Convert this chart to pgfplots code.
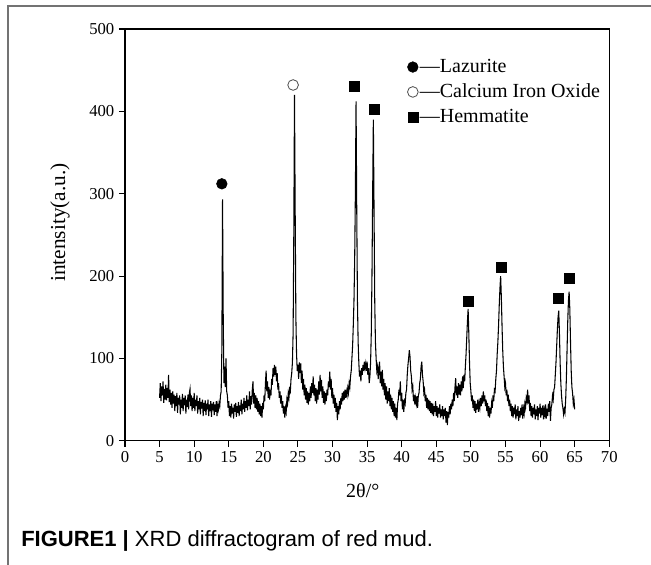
\documentclass[border=0pt]{standalone}
\usepackage{fontspec}
\setmainfont{Liberation Serif}
\newfontfamily\capfont{Liberation Sans}
\usepackage{pgfplots}
\pgfplotsset{compat=1.18}
\begin{document}
\begin{tikzpicture}
\useasboundingbox (0,0) rectangle (488.25pt,423.75pt);
\draw[black!55, line width=1pt] (6pt,0pt) -- (6pt,419.25pt) -- (488.25pt,419.25pt);
\begin{axis}[
 at={(93.75pt,93.2pt)}, anchor=south west,
 scale only axis, width=363.2pt, height=308.8pt,
 xmin=0, xmax=70, ymin=0, ymax=500,
 xtick={0,5,...,70}, ytick={0,100,...,500},
 tick align=outside, xtick pos=bottom, ytick pos=left,
 major tick length=4.5pt,
 every tick/.style={black, line width=0.8pt},
 axis line style={line width=0.8pt},
 tick label style={font=\fontsize{12.5}{15}\selectfont},
 /pgf/number format/assume math mode=true,
 xlabel={2θ/°}, ylabel={intensity(a.u.)},
 xlabel style={font=\fontsize{15}{18}\selectfont, at={(axis description cs:0.491,-0.12)}, anchor=center},
 ylabel style={font=\fontsize{16}{19}\selectfont, at={(axis description cs:-0.134,0.53)}, anchor=center},
 legend style={draw=none, fill=none, at={(axis description cs:0.582,0.93)}, anchor=north west,
   font=\fontsize{15}{18}\selectfont, row sep=5pt, inner sep=0pt,
   nodes={inner sep=1pt}, cells={anchor=west}},
 legend image code/.code={\draw[#1] plot coordinates {(4pt,0pt)}; \path (0pt,-4pt) (8pt,4pt);},
]
\addplot[black, line width=0.8pt, forget plot] coordinates {
(5.0,52)(5.1,70)(5.2,48)(5.3,66)(5.4,55)(5.5,72)(5.6,46)(5.7,63)(5.8,50)(5.9,68)
(6.0,49)(6.1,64)(6.2,52)(6.3,80)(6.4,47)(6.5,62)(6.6,44)(6.7,58)(6.8,40)(6.9,60)
(7.0,45)(7.1,56)(7.2,36)(7.3,54)(7.4,42)(7.5,58)(7.6,34)(7.7,52)(7.8,44)(7.9,55)
(8.0,32)(8.1,50)(8.2,40)(8.3,57)(8.4,36)(8.5,52)(8.6,43)(8.7,55)(8.8,33)(8.9,50)
(9.0,41)(9.1,56)(9.2,38)(9.3,58)(9.4,63)(9.5,42)(9.6,55)(9.7,36)(9.8,52)(9.9,40)
(10.0,58)(10.1,36)(10.2,50)(10.3,42)(10.4,55)(10.5,33)(10.6,48)(10.7,38)(10.8,52)(10.9,32)
(11.0,47)(11.1,39)(11.2,50)(11.3,30)(11.4,46)(11.5,36)(11.6,49)(11.7,31)(11.8,45)(11.9,38)
(12.0,50)(12.1,30)(12.2,44)(12.3,36)(12.4,48)(12.5,29)(12.6,45)(12.7,37)(12.8,47)(12.9,31)
(13.0,44)(13.1,35)(13.2,48)(13.3,30)(13.4,43)(13.5,38)(13.6,46)(13.7,42)(13.8,55)(13.9,60)
(14.0,110)(14.1,293)(14.2,150)(14.3,70)(14.4,90)(14.5,65)(14.6,100)(14.7,60)(14.8,55)(14.9,40)
(15.0,48)(15.1,30)(15.2,42)(15.3,28)(15.4,45)(15.5,33)(15.6,40)(15.7,27)(15.8,44)(15.9,35)
(16.0,46)(16.1,29)(16.2,42)(16.3,34)(16.4,47)(16.5,30)(16.6,43)(16.7,36)(16.8,50)(16.9,32)
(17.0,45)(17.1,38)(17.2,52)(17.3,35)(17.4,48)(17.5,40)(17.6,55)(17.7,37)(17.8,50)(17.9,42)
(18.0,60)(18.1,38)(18.2,54)(18.3,44)(18.4,62)(18.5,72)(18.6,45)(18.7,58)(18.8,40)(18.9,55)
(19.0,38)(19.1,52)(19.2,35)(19.3,48)(19.4,32)(19.5,45)(19.6,30)(19.7,42)(19.8,28)(19.9,46)
(20.0,38)(20.1,55)(20.2,48)(20.3,70)(20.4,85)(20.5,60)(20.6,72)(20.7,52)(20.8,65)(20.9,50)
(21.0,62)(21.1,55)(21.2,75)(21.3,68)(21.4,88)(21.5,78)(21.6,92)(21.7,80)(21.8,90)(21.9,72)
(22.0,82)(22.1,62)(22.2,70)(22.3,52)(22.4,60)(22.5,45)(22.6,55)(22.7,40)(22.8,48)(22.9,33)
(23.0,42)(23.1,28)(23.2,40)(23.3,35)(23.4,50)(23.5,45)(23.6,58)(23.7,52)(23.8,63)(23.9,60)
(24.0,75)(24.1,82)(24.2,95)(24.3,130)(24.4,250)(24.5,420)(24.6,280)(24.7,150)(24.8,105)(24.9,85)
(25.0,92)(25.1,75)(25.2,95)(25.3,82)(25.4,94)(25.5,70)(25.6,85)(25.7,62)(25.8,75)(25.9,55)
(26.0,68)(26.1,50)(26.2,64)(26.3,46)(26.4,60)(26.5,44)(26.6,58)(26.7,48)(26.8,66)(26.9,52)
(27.0,70)(27.1,58)(27.2,78)(27.3,55)(27.4,68)(27.5,48)(27.6,64)(27.7,45)(27.8,62)(27.9,50)
(28.0,72)(28.1,56)(28.2,80)(28.3,60)(28.4,74)(28.5,52)(28.6,66)(28.7,46)(28.8,60)(28.9,44)
(29.0,58)(29.1,48)(29.2,62)(29.3,55)(29.4,72)(29.5,65)(29.6,84)(29.7,62)(29.8,75)(29.9,52)
(30.0,64)(30.1,45)(30.2,56)(30.3,40)(30.4,52)(30.5,35)(30.6,46)(30.7,25)(30.8,42)(30.9,32)
(31.0,48)(31.1,38)(31.2,52)(31.3,44)(31.4,58)(31.5,48)(31.6,60)(31.7,50)(31.8,62)(31.9,52)
(32.0,60)(32.1,55)(32.2,64)(32.3,58)(32.4,70)(32.5,65)(32.6,78)(32.7,85)(32.8,100)(32.9,115)
(33.0,140)(33.1,170)(33.2,220)(33.3,300)(33.4,412)(33.5,280)(33.6,170)(33.7,120)(33.8,95)(33.9,78)
(34.0,85)(34.1,72)(34.2,88)(34.3,80)(34.4,92)(34.5,85)(34.6,96)(34.7,88)(34.8,94)(34.9,85)
(35.0,96)(35.1,80)(35.2,88)(35.3,70)(35.4,78)(35.5,95)(35.6,130)(35.7,200)(35.8,300)(35.9,390)
(36.0,280)(36.1,170)(36.2,120)(36.3,100)(36.4,85)(36.5,90)(36.6,75)(36.7,88)(36.8,96)(36.9,70)
(37.0,84)(37.1,66)(37.2,86)(37.3,62)(37.4,75)(37.5,55)(37.6,70)(37.7,50)(37.8,66)(37.9,45)
(38.0,60)(38.1,48)(38.2,64)(38.3,42)(38.4,56)(38.5,38)(38.6,52)(38.7,35)(38.8,48)(38.9,30)
(39.0,45)(39.1,28)(39.2,40)(39.3,25)(39.4,45)(39.5,50)(39.6,62)(39.7,55)(39.8,72)(39.9,48)
(40.0,58)(40.1,38)(40.2,50)(40.3,35)(40.4,48)(40.5,45)(40.6,58)(40.7,62)(40.8,80)(40.9,92)
(41.0,100)(41.1,110)(41.2,102)(41.3,85)(41.4,78)(41.5,62)(41.6,66)(41.7,48)(41.8,56)(41.9,44)
(42.0,52)(42.1,45)(42.2,54)(42.3,40)(42.4,55)(42.5,58)(42.6,70)(42.7,75)(42.8,90)(42.9,96)
(43.0,80)(43.1,72)(43.2,58)(43.3,62)(43.4,48)(43.5,56)(43.6,40)(43.7,52)(43.8,38)(43.9,50)
(44.0,36)(44.1,48)(44.2,34)(44.3,46)(44.4,32)(44.5,45)(44.6,30)(44.7,42)(44.8,35)(44.9,48)
(45.0,30)(45.1,42)(45.2,28)(45.3,40)(45.4,33)(45.5,44)(45.6,28)(45.7,38)(45.8,30)(45.9,42)
(46.0,26)(46.1,38)(46.2,30)(46.3,40)(46.4,22)(46.5,36)(46.6,19)(46.7,35)(46.8,28)(46.9,42)
(47.0,32)(47.1,45)(47.2,38)(47.3,50)(47.4,42)(47.5,58)(47.6,48)(47.7,65)(47.8,76)(47.9,55)
(48.0,66)(48.1,52)(48.2,70)(48.3,56)(48.4,68)(48.5,55)(48.6,72)(48.7,60)(48.8,78)(48.9,64)
(49.0,80)(49.1,72)(49.2,90)(49.3,105)(49.4,125)(49.5,145)(49.6,160)(49.7,130)(49.8,95)(49.9,70)
(50.0,60)(50.1,48)(50.2,55)(50.3,40)(50.4,50)(50.5,36)(50.6,48)(50.7,34)(50.8,45)(50.9,38)
(51.0,50)(51.1,35)(51.2,46)(51.3,40)(51.4,52)(51.5,42)(51.6,55)(51.7,45)(51.8,60)(51.9,48)
(52.0,55)(52.1,42)(52.2,50)(52.3,36)(52.4,46)(52.5,30)(52.6,42)(52.7,28)(52.8,40)(52.9,33)
(53.0,46)(53.1,40)(53.2,55)(53.3,48)(53.4,62)(53.5,60)(53.6,75)(53.7,85)(53.8,105)(53.9,120)
(54.0,140)(54.1,165)(54.2,185)(54.3,200)(54.4,175)(54.5,140)(54.6,110)(54.7,90)(54.8,78)(54.9,65)
(55.0,70)(55.1,55)(55.2,62)(55.3,48)(55.4,56)(55.5,42)(55.6,50)(55.7,36)(55.8,45)(55.9,30)
(56.0,42)(56.1,28)(56.2,40)(56.3,32)(56.4,44)(56.5,26)(56.6,38)(56.7,30)(56.8,42)(56.9,24)
(57.0,36)(57.1,28)(57.2,40)(57.3,31)(57.4,44)(57.5,27)(57.6,39)(57.7,33)(57.8,45)(57.9,40)
(58.0,52)(58.1,48)(58.2,62)(58.3,45)(58.4,55)(58.5,36)(58.6,46)(58.7,30)(58.8,42)(58.9,28)
(59.0,40)(59.1,32)(59.2,44)(59.3,26)(59.4,38)(59.5,30)(59.6,42)(59.7,25)(59.8,40)(59.9,33)
(60.0,45)(60.1,28)(60.2,40)(60.3,31)(60.4,43)(60.5,26)(60.6,38)(60.7,32)(60.8,44)(60.9,27)
(61.0,39)(61.1,30)(61.2,45)(61.3,35)(61.4,48)(61.5,24)(61.6,40)(61.7,44)(61.8,55)(61.9,50)
(62.0,62)(62.1,65)(62.2,80)(62.3,95)(62.4,115)(62.5,135)(62.6,150)(62.7,158)(62.8,130)(62.9,95)
(63.0,70)(63.1,55)(63.2,45)(63.3,40)(63.4,32)(63.5,38)(63.6,34)(63.7,50)(63.8,75)(63.9,110)
(64.0,145)(64.1,170)(64.2,181)(64.3,160)(64.4,120)(64.5,85)(64.6,65)(64.7,58)(64.8,45)(64.9,50)
(65.0,38)
};
\addplot[only marks, mark=*, mark size=4pt, black, forget plot] coordinates {(14.0,312)};
\addplot[only marks, mark=*, mark size=4pt, draw=black!70, fill=white, line width=0.6pt, forget plot] coordinates {(24.3,432)};
\addplot[only marks, mark=square*, mark size=3.75pt, black, forget plot] coordinates {(33.2,431)(36.0,402)(49.6,169)(54.4,211)(62.7,173)(64.2,197)};
\addlegendimage{only marks, mark=*, mark size=4pt, black}
\addlegendentry{—Lazurite}
\addlegendimage{only marks, mark=*, mark size=4pt, draw=black!70, fill=white, line width=0.6pt}
\addlegendentry{—Calcium Iron Oxide}
\addlegendimage{only marks, mark=square*, mark size=3.75pt, black}
\addlegendentry{—Hemmatite}
\end{axis}
\node[anchor=west, inner sep=0pt] at (15.75pt,18pt) {\capfont\fontsize{16.5}{18}\selectfont\textbf{FIGURE1 |} XRD diffractogram of red mud.};
\end{tikzpicture}
\end{document}
